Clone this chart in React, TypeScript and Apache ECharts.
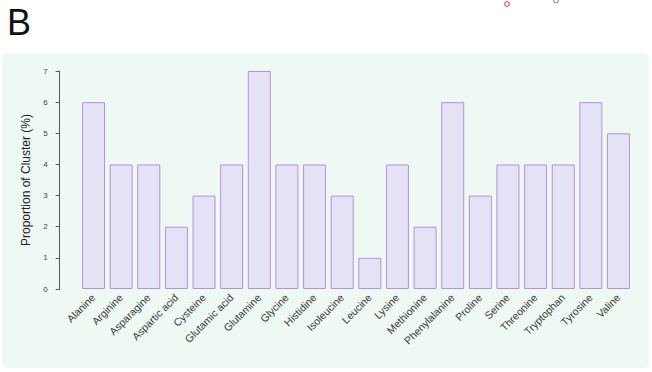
import React, { useEffect, useRef } from "react";
import * as echarts from "echarts";

const aminoAcids = [
  "Alanine", "Arginine", "Asparagine", "Aspartic acid", "Cysteine",
  "Glutamic acid", "Glutamine", "Glycine", "Histidine", "Isoleucine",
  "Leucine", "Lysine", "Methionine", "Phenylalanine", "Proline",
  "Serine", "Threonine", "Tryptophan", "Tyrosine", "Valine",
];
const proportions = [6, 4, 4, 2, 3, 4, 7, 4, 4, 3, 1, 4, 2, 6, 3, 4, 4, 4, 6, 5];
const yTicks = [0, 1, 2, 3, 4, 5, 6, 7];

export default function App() {
  const ref = useRef<HTMLDivElement>(null);

  useEffect(() => {
    if (!ref.current) return;
    const chart = echarts.init(ref.current, undefined, { renderer: "svg" });
    chart.setOption({
      animation: false,
      backgroundColor: "#ffffff",
      textStyle: { fontFamily: "Liberation Sans, Arial, sans-serif" },
      graphic: [
        {
          type: "rect",
          z: -10,
          shape: { x: 2, y: 53, width: 647, height: 315, r: 6 },
          style: { fill: "#eef9f3" },
        },
        {
          type: "text",
          left: 7,
          top: 4,
          style: {
            text: "B",
            fontSize: 36,
            fill: "#111",
            fontFamily: "Liberation Sans, Arial, sans-serif",
          },
        },
        {
          type: "circle",
          shape: { cx: 507, cy: 4, r: 2.3 },
          style: { fill: "#fff", stroke: "#e0606e", lineWidth: 1.3 },
        },
        {
          type: "circle",
          shape: { cx: 556, cy: 0.5, r: 2.3 },
          style: { fill: "#fff", stroke: "#999", lineWidth: 1.3 },
        },
      ],
      grid: { left: 79.7, right: 19.7, top: 71, bottom: 83, containLabel: false },
      xAxis: {
        type: "category",
        data: aminoAcids,
        axisLine: { show: false },
        axisTick: { show: false },
        axisLabel: {
          interval: 0,
          rotate: 45,
          fontSize: 10.5,
          color: "#3a3a3a",
          margin: 7,
        },
      },
      yAxis: {
        type: "value",
        min: yTicks[0],
        max: yTicks[yTicks.length - 1],
        interval: 1,
        offset: 20,
        name: "Proportion of Cluster (%)",
        nameLocation: "middle",
        nameRotate: 90,
        nameGap: 27,
        nameTextStyle: { fontSize: 12, color: "#222" },
        splitLine: { show: false },
        axisLine: { show: true, lineStyle: { color: "#555", width: 1 } },
        axisTick: { show: true, length: 4, lineStyle: { color: "#555" } },
        axisLabel: { fontSize: 8, color: "#444", margin: 12 },
      },
      series: [
        {
          type: "bar",
          data: proportions,
          barCategoryGap: "16.7%",
          itemStyle: {
            color: "#e4e2f5",
            borderColor: "#b690e0",
            borderWidth: 1,
          },
        },
      ],
    });
    return () => chart.dispose();
  }, []);

  return (
    <div
      ref={ref}
      style={{ position: "absolute", left: 0, top: 0, width: 652, height: 372 }}
    />
  );
}
